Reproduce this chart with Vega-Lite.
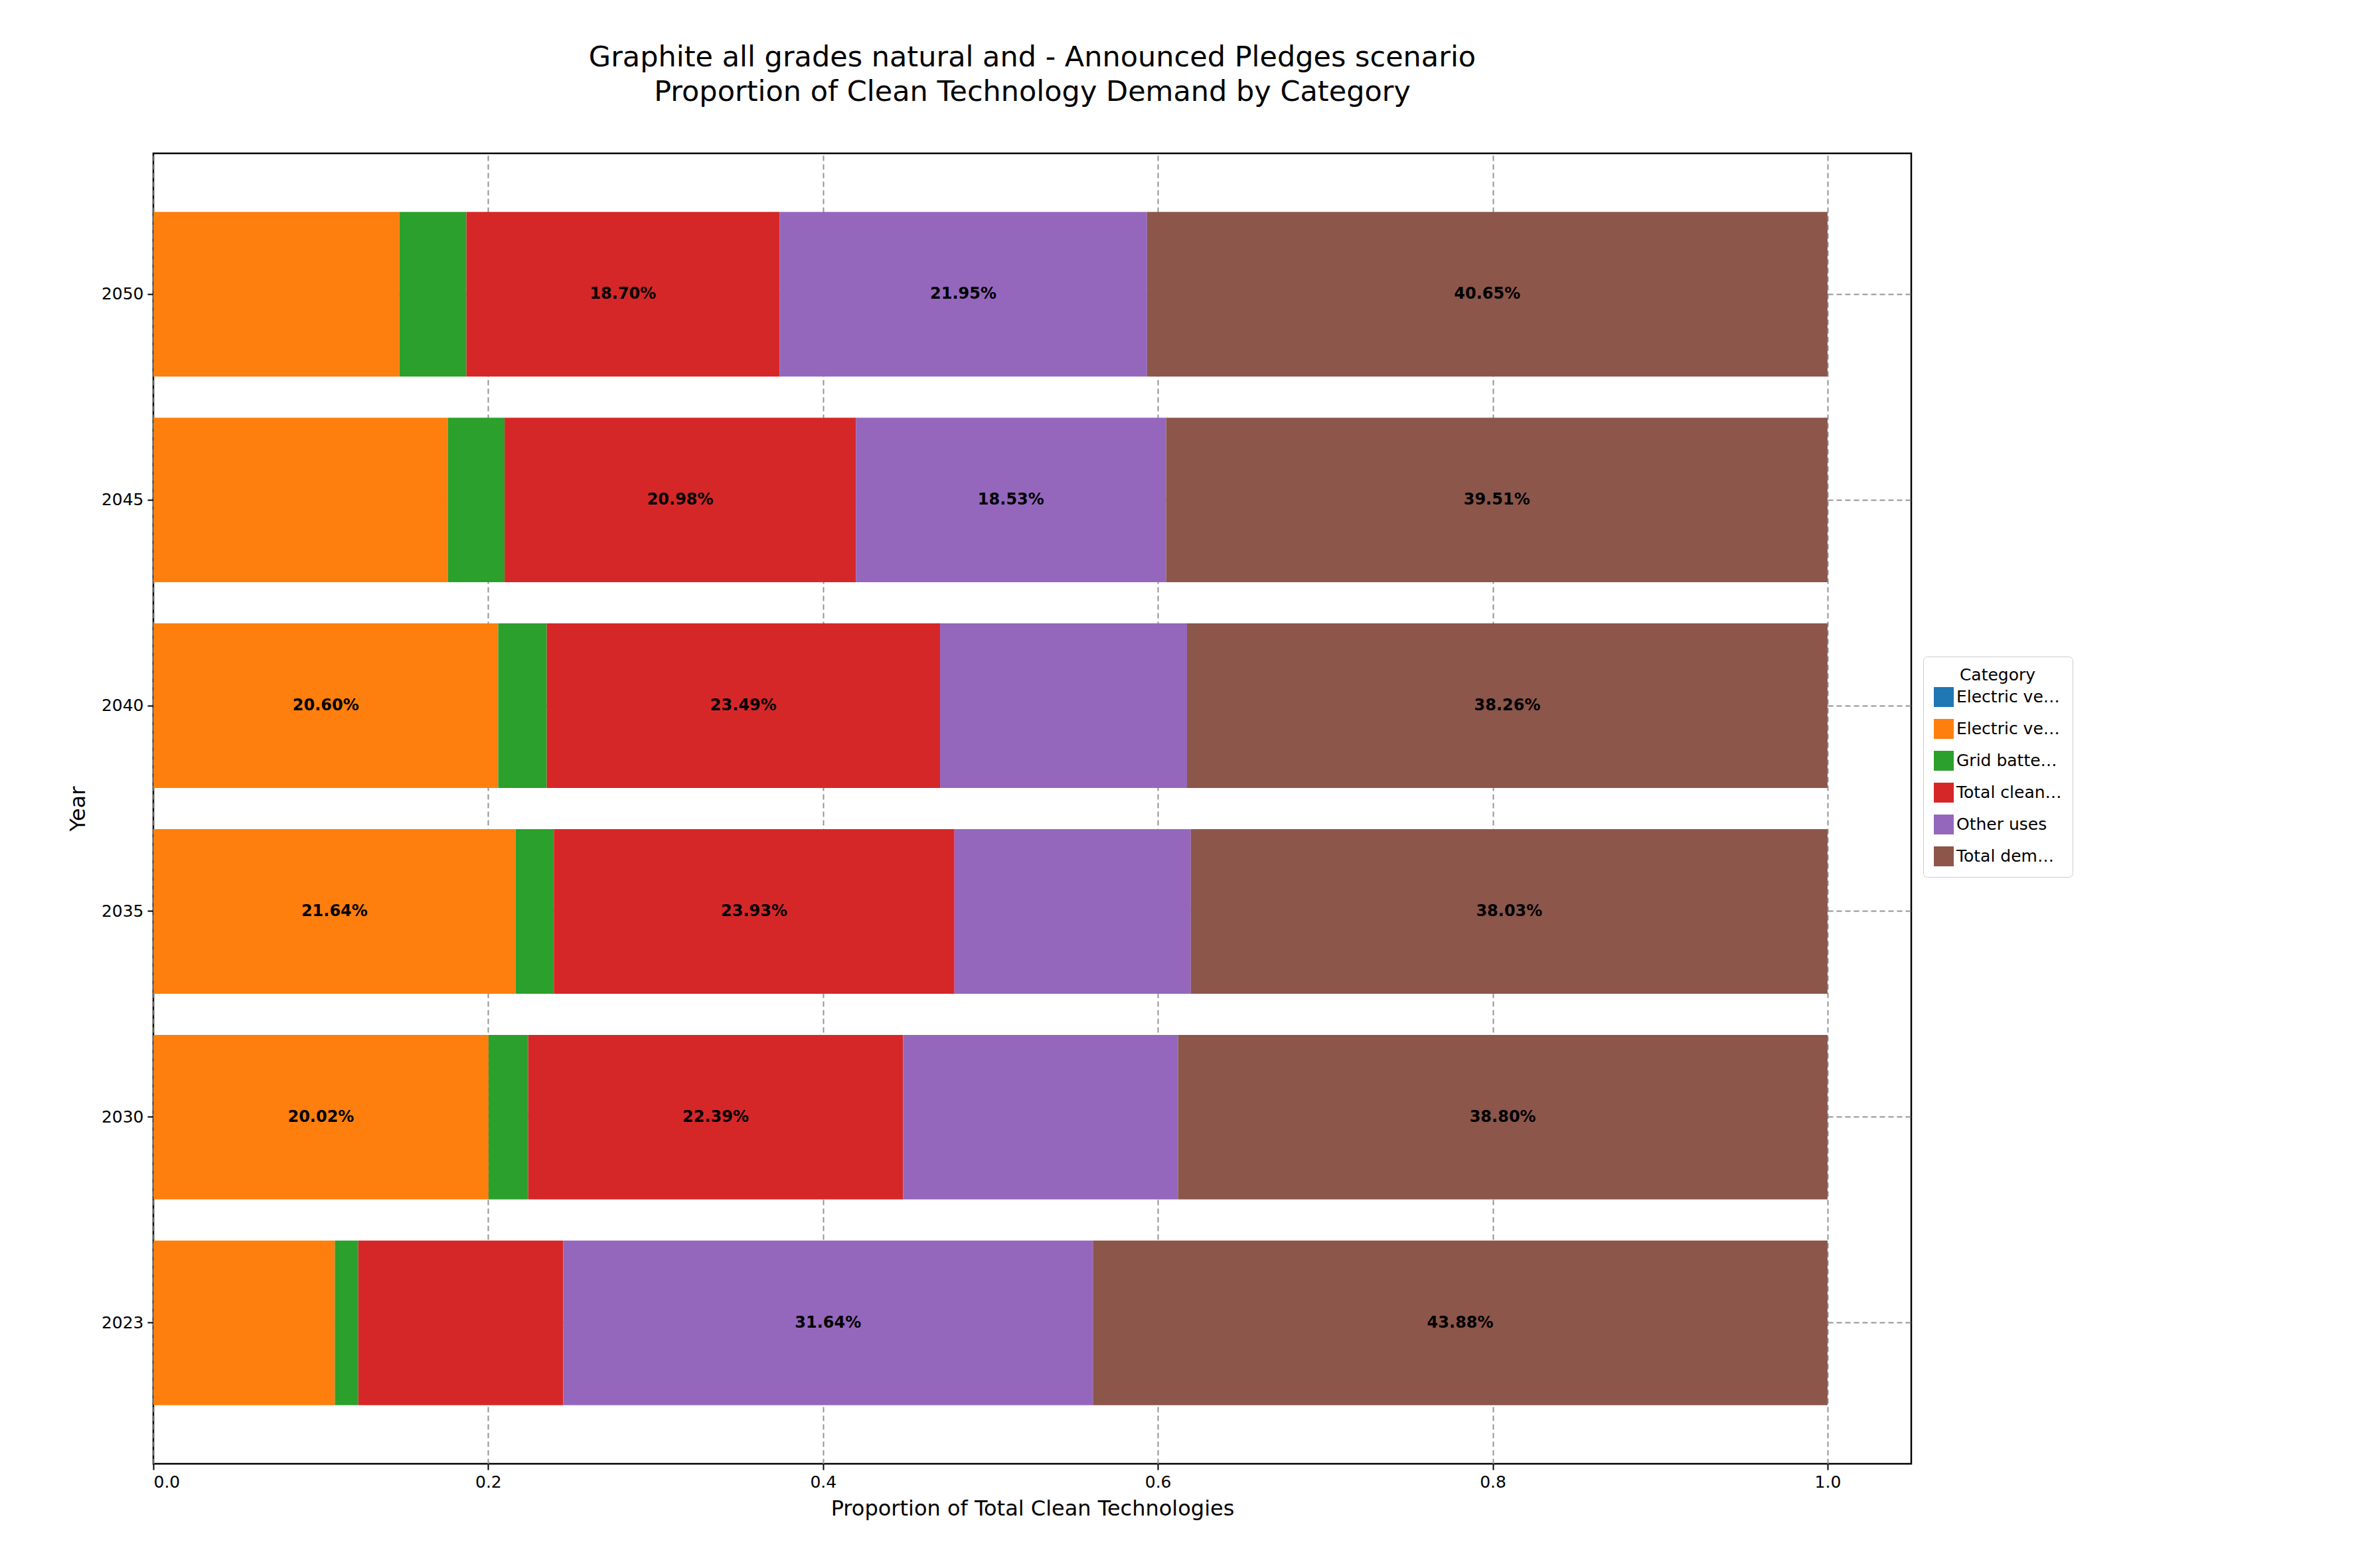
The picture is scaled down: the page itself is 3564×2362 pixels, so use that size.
{
  "$schema": "https://vega.github.io/schema/vega-lite/v6.json",
  "autosize": "none",
  "width": 2648,
  "height": 1974,
  "padding": {"left": 231, "top": 231, "right": 685, "bottom": 157},
  "background": "white",
  "config": {
    "font": "DejaVu Sans",
    "view": {"stroke": "black", "strokeWidth": 2.5},
    "axis": {"labelFontSize": 25, "titleFontSize": 32, "titleFontWeight": "normal", "labelColor": "black", "titleColor": "black", "tickColor": "black", "domain": false, "tickSize": 9, "tickWidth": 2, "gridColor": "#888888", "gridDash": [8, 5], "gridWidth": 2, "gridOpacity": 0.9}
  },
  "title": {
    "text": ["Graphite all grades natural and - Announced Pledges scenario", "Proportion of Clean Technology Demand by Category"],
    "fontSize": 43, "fontWeight": "normal", "anchor": "middle", "offset": 70, "lineHeight": 52, "color": "black"
  },
  "data": {
    "values": [
      {"year": "2050", "category": "Electric vehicles", "idx": 0, "share": 0},
      {"year": "2050", "category": "Electric vehicles ", "idx": 1, "share": 0.147},
      {"year": "2050", "category": "Grid battery storage", "idx": 2, "share": 0.04},
      {"year": "2050", "category": "Total clean technologies", "idx": 3, "share": 0.187},
      {"year": "2050", "category": "Other uses", "idx": 4, "share": 0.2195},
      {"year": "2050", "category": "Total demand", "idx": 5, "share": 0.4065},
      {"year": "2045", "category": "Electric vehicles", "idx": 0, "share": 0},
      {"year": "2045", "category": "Electric vehicles ", "idx": 1, "share": 0.176},
      {"year": "2045", "category": "Grid battery storage", "idx": 2, "share": 0.0338},
      {"year": "2045", "category": "Total clean technologies", "idx": 3, "share": 0.2098},
      {"year": "2045", "category": "Other uses", "idx": 4, "share": 0.1853},
      {"year": "2045", "category": "Total demand", "idx": 5, "share": 0.3951},
      {"year": "2040", "category": "Electric vehicles", "idx": 0, "share": 0},
      {"year": "2040", "category": "Electric vehicles ", "idx": 1, "share": 0.206},
      {"year": "2040", "category": "Grid battery storage", "idx": 2, "share": 0.029},
      {"year": "2040", "category": "Total clean technologies", "idx": 3, "share": 0.2349},
      {"year": "2040", "category": "Other uses", "idx": 4, "share": 0.1475},
      {"year": "2040", "category": "Total demand", "idx": 5, "share": 0.3826},
      {"year": "2035", "category": "Electric vehicles", "idx": 0, "share": 0},
      {"year": "2035", "category": "Electric vehicles ", "idx": 1, "share": 0.2164},
      {"year": "2035", "category": "Grid battery storage", "idx": 2, "share": 0.0228},
      {"year": "2035", "category": "Total clean technologies", "idx": 3, "share": 0.2393},
      {"year": "2035", "category": "Other uses", "idx": 4, "share": 0.1412},
      {"year": "2035", "category": "Total demand", "idx": 5, "share": 0.3803},
      {"year": "2030", "category": "Electric vehicles", "idx": 0, "share": 0},
      {"year": "2030", "category": "Electric vehicles ", "idx": 1, "share": 0.2002},
      {"year": "2030", "category": "Grid battery storage", "idx": 2, "share": 0.0237},
      {"year": "2030", "category": "Total clean technologies", "idx": 3, "share": 0.2239},
      {"year": "2030", "category": "Other uses", "idx": 4, "share": 0.1642},
      {"year": "2030", "category": "Total demand", "idx": 5, "share": 0.388},
      {"year": "2023", "category": "Electric vehicles", "idx": 0, "share": 0},
      {"year": "2023", "category": "Electric vehicles ", "idx": 1, "share": 0.1084},
      {"year": "2023", "category": "Grid battery storage", "idx": 2, "share": 0.014},
      {"year": "2023", "category": "Total clean technologies", "idx": 3, "share": 0.1224},
      {"year": "2023", "category": "Other uses", "idx": 4, "share": 0.3164},
      {"year": "2023", "category": "Total demand", "idx": 5, "share": 0.4388}
    ]
  },
  "transform": [
    {"stack": "share", "groupby": ["year"], "sort": [{"field": "idx", "order": "ascending"}], "as": ["x0", "x1"]},
    {"calculate": "(datum.x0 + datum.x1) / 2", "as": "xm"}
  ],
  "encoding": {
    "y": {
      "field": "year", "type": "ordinal", "sort": "descending", "title": "Year",
      "scale": {"paddingInner": 0.2, "paddingOuter": 0.285},
      "axis": {"grid": true, "bandPosition": 0.5, "labelPadding": 6, "titlePadding": 18}
    }
  },
  "layer": [
    {
      "mark": {"type": "bar"},
      "encoding": {
        "x": {
          "field": "x0", "type": "quantitative", "title": "Proportion of Total Clean Technologies",
          "scale": {"domain": [0, 1.05], "nice": false},
          "axis": {"values": [0, 0.2, 0.4, 0.6, 0.8, 1.0], "format": ".1f", "grid": true, "labelPadding": 6, "titlePadding": 12}
        },
        "x2": {"field": "x1"},
        "color": {
          "field": "category", "type": "nominal", "title": "Category",
          "scale": {
            "domain": ["Electric vehicles", "Electric vehicles ", "Grid battery storage", "Total clean technologies", "Other uses", "Total demand"],
            "range": ["#1f77b4", "#ff7f0e", "#2ca02c", "#d62728", "#9467bd", "#8c564b"]
          },
          "legend": {
            "orient": "none", "legendX": 2666, "legendY": 758,
            "titleFontSize": 25, "titleFontWeight": "normal", "labelFontSize": 25, "titleAnchor": "middle",
            "symbolType": "square", "symbolSize": 900, "symbolStrokeWidth": 0, "rowPadding": 18,
            "strokeColor": "#cccccc", "fillColor": "white", "padding": 16, "cornerRadius": 6, "labelColor": "black", "titleColor": "black"
          }
        }
      }
    },
    {
      "transform": [{"filter": "datum.share >= 0.18"}],
      "mark": {"type": "text", "fontSize": 24, "fontWeight": "bold", "color": "black"},
      "encoding": {
        "x": {"field": "xm", "type": "quantitative"},
        "text": {"field": "share", "type": "quantitative", "format": ".2%"}
      }
    }
  ]
}
